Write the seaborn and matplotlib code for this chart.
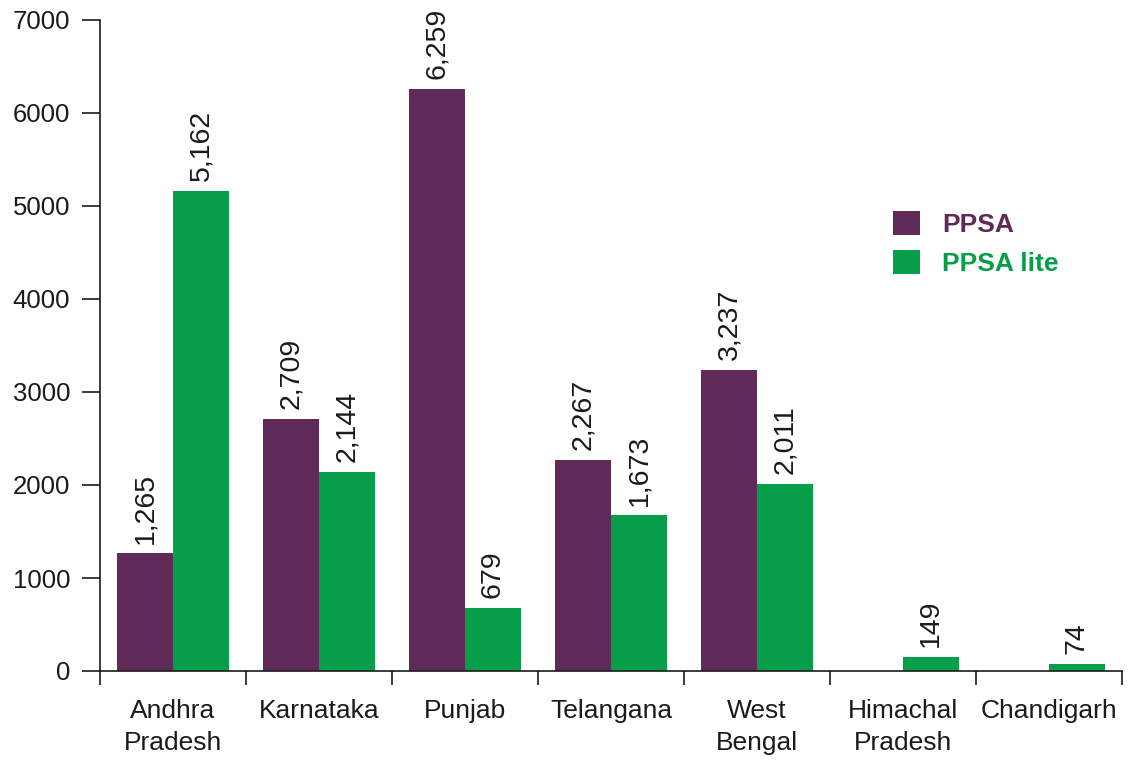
import matplotlib
matplotlib.use("Agg")
import matplotlib.pyplot as plt
import seaborn as sns
import pandas as pd
import numpy as np

states = ["Andhra\nPradesh", "Karnataka", "Punjab", "Telangana", "West\nBengal", "Himachal\nPradesh", "Chandigarh"]
ppsa = [1265, 2709, 6259, 2267, 3237, 0, 0]
ppsa_lite = [5162, 2144, 679, 1673, 2011, 149, 74]
series = ["PPSA", "PPSA lite"]
colors = ["#5f2a58", "#069e48"]

df = pd.DataFrame({
    "state": states * 2,
    "value": ppsa + ppsa_lite,
    "series": [series[0]] * len(states) + [series[1]] * len(states),
})

sns.set_theme(style="white")
plt.rcParams["font.family"] = ["Liberation Sans", "DejaVu Sans"]

fig = plt.figure(figsize=(11.3, 7.62), dpi=100)
ax = fig.add_axes([100 / 1130, 91 / 762, 1022 / 1130, 651 / 762])

sns.barplot(data=df, x="state", y="value", hue="series", palette=colors,
            width=0.767, saturation=1, ax=ax, errorbar=None, order=states, hue_order=series,
            linewidth=0)

for cont in ax.containers:
    labels = [f"{v:,.0f}" if v > 0 else "" for v in cont.datavalues]
    ax.bar_label(cont, labels=labels, rotation=90, padding=7, fontsize=20.5, color="#1a1a1a")

ax.set_ylim(0, 7000)
ax.set_xlim(-0.5, len(states) - 0.5)
ax.set_yticks(np.arange(0, 7001, 1000))
ax.set_xlabel("")
ax.set_ylabel("")
ax.set_xticks(np.arange(len(states)))
ax.set_xticklabels(states, linespacing=1.45)
ax.set_xticks(np.arange(-0.5, len(states), 1.0), minor=True)
ax.tick_params(axis="x", which="major", length=0, pad=20, labelsize=19, colors="#1a1a1a")
ax.tick_params(axis="x", which="minor", length=10, width=1.2, direction="out", color="#1a1a1a", bottom=True)
ax.tick_params(axis="y", which="major", length=13, width=1.2, direction="out", pad=8.5, labelsize=18.5,
               color="#1a1a1a", labelcolor="#1a1a1a", left=True)

for s in ["top", "right"]:
    ax.spines[s].set_visible(False)
for s in ["left", "bottom"]:
    ax.spines[s].set_color("#1a1a1a")
    ax.spines[s].set_linewidth(1.2)

leg = ax.legend(loc="upper left", bbox_to_anchor=(788 / 1022, 1 - 186 / 651), frameon=False,
                handlelength=1.0, handleheight=1.0, handletextpad=0.85, labelspacing=0.5,
                borderaxespad=0, borderpad=0.2,
                prop={"weight": "bold", "size": 19}, labelcolor=colors)

fig.savefig("out.png", dpi=100)
